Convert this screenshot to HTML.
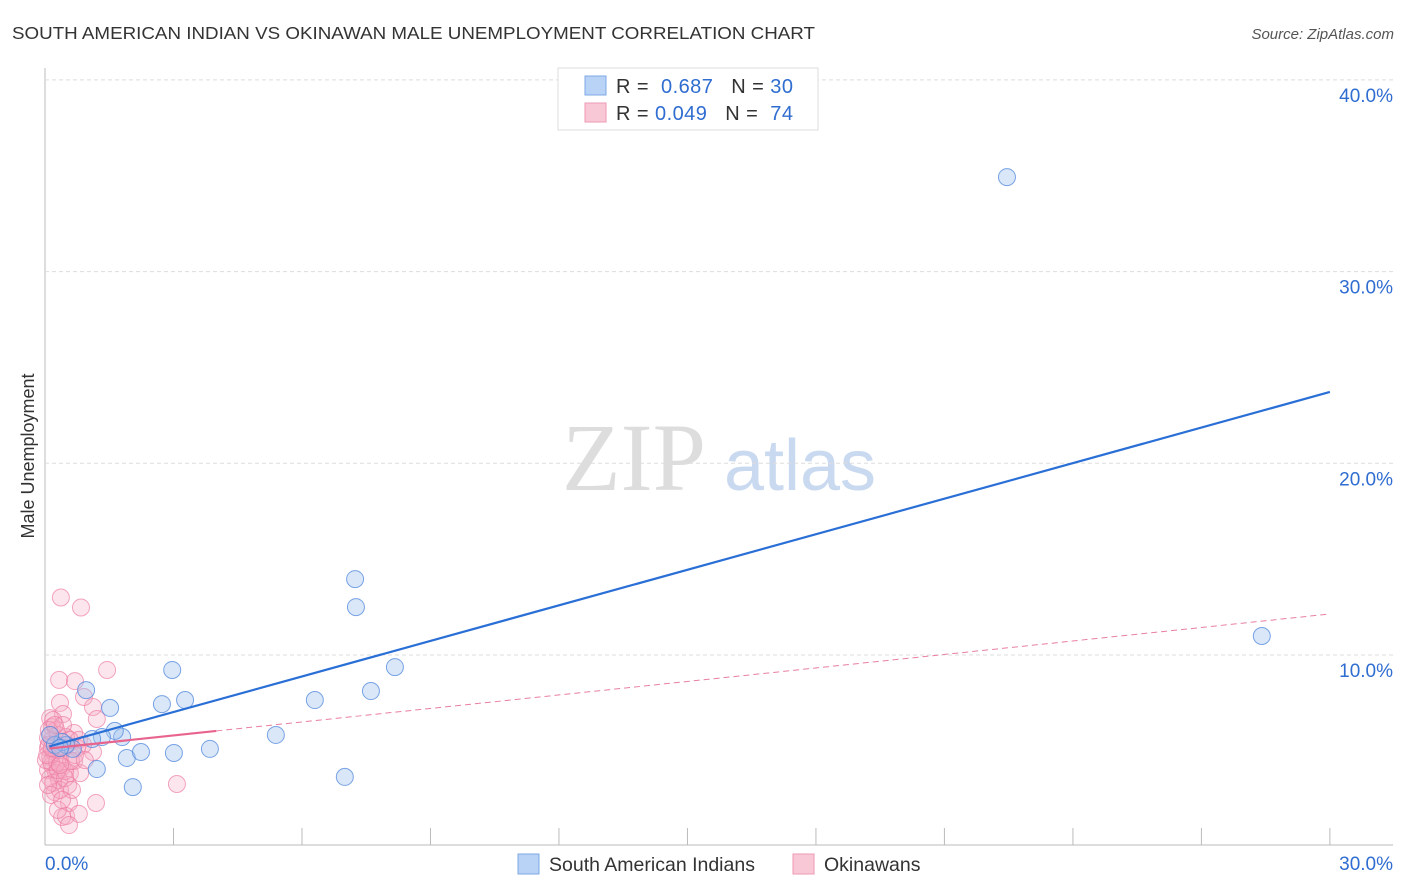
<!DOCTYPE html>
<html><head><meta charset="utf-8"><style>
body{margin:0;background:#fff;font-family:"Liberation Sans",sans-serif;}
svg{display:block}
</style></head><body>
<svg id="c" width="1406" height="892" xmlns="http://www.w3.org/2000/svg">
<text x="12" y="39" font-size="17.5" fill="#333" textLength="803" lengthAdjust="spacingAndGlyphs">SOUTH AMERICAN INDIAN VS OKINAWAN MALE UNEMPLOYMENT CORRELATION CHART</text>
<text x="1394" y="39" font-size="15" fill="#555" font-style="italic" text-anchor="end">Source: ZipAtlas.com</text>
<text x="634" y="490" font-size="96" fill="#ddd" font-family="Liberation Serif,serif" text-anchor="middle">ZIP</text>
<text x="800" y="490" font-size="72" fill="#c9d9f0" text-anchor="middle">atlas</text>
<text transform="translate(34,456) rotate(-90)" font-size="18" fill="#333" text-anchor="middle">Male Unemployment</text>
<g id="grid"></g><g id="marks"></g><g id="lines"></g>
<g>
<rect x="558" y="68" width="260" height="62" fill="#fff" stroke="#ddd"/>
<rect x="585" y="76" width="21" height="19" fill="#b8d3f5" stroke="#7ea9e6"/>
<rect x="585" y="103" width="21" height="19" fill="#f9c8d7" stroke="#ee9ab5"/>
<text x="616" y="93" font-size="20" fill="#333" textLength="177" lengthAdjust="spacing">R = <tspan fill="#2f6dd0">&#160;0.687</tspan><tspan dx="18">N = </tspan><tspan fill="#2f6dd0">30</tspan></text>
<text x="616" y="120" font-size="20" fill="#333" textLength="177" lengthAdjust="spacing">R = <tspan fill="#2f6dd0">0.049</tspan><tspan dx="18">N = </tspan><tspan fill="#2f6dd0">&#160;74</tspan></text>
</g>
<g>
<rect x="518" y="854" width="21" height="20" fill="#b8d3f5" stroke="#7ea9e6"/>
<text x="549" y="871" font-size="19.5" fill="#333">South American Indians</text>
<rect x="793" y="854" width="21" height="20" fill="#f9c8d7" stroke="#ee9ab5"/>
<text x="824" y="871" font-size="19.5" fill="#333">Okinawans</text>
</g>
<text x="45" y="870" font-size="19" fill="#2f6dd0">0.0%</text>
<text x="1393" y="870" font-size="19" fill="#2f6dd0" text-anchor="end">30.0%</text>
</svg>
<script>
const yTicks=[10,20,30,40];
const yTickLabels=["10.0%","20.0%","30.0%","40.0%"];
const xTicks=[0,3,6,9,12,15,18,21,24,27,30];
const blueX=[22.46,28.41,7.24,7.26,8.17,7.61,6.30,5.39,7.00,3.85,3.27,2.97,2.73,3.01,2.05,1.91,2.24,1.80,1.63,1.33,1.52,1.21,0.96,1.10,0.65,0.49,0.40,0.23,0.12,0.35];
const blueY=[34.93,10.99,13.96,12.50,9.37,8.12,7.65,5.83,3.64,5.10,7.65,9.22,7.44,4.89,3.11,4.63,4.94,5.72,6.04,5.72,7.24,4.05,8.17,5.62,5.10,5.31,5.46,5.31,5.83,5.15];
const pinkX=[0.37,0.84,1.45,0.33,0.70,0.91,0.35,1.12,0.42,1.21,0.12,0.16,0.26,0.68,0.49,0.79,0.23,0.07,0.44,0.75,1.12,0.12,0.35,0.68,0.16,0.40,0.07,0.26,0.58,0.82,0.12,0.33,0.54,0.23,0.56,1.19,3.08,0.40,0.49,0.79,0.56,0.16,0.30,0.07,0.21,0.14,0.28,0.19,0.47,0.61,0.37,0.02,0.09,0.30,0.35,0.51,0.19,0.89,0.42,0.70,0.09,0.26,0.47,0.14,0.30,0.63,0.40,0.05,0.23,0.58,0.93,0.16,0.35,0.07];
const pinkY=[13.00,12.48,9.22,8.70,8.64,7.81,7.50,7.29,6.92,6.66,6.71,6.24,6.09,5.93,5.72,5.57,5.31,5.15,5.15,5.15,4.94,4.68,4.63,4.47,4.26,4.16,4.00,3.84,3.84,3.84,3.58,3.48,3.22,2.85,2.28,2.28,3.27,1.55,1.60,1.71,1.13,5.57,5.83,5.67,4.94,4.42,4.42,3.33,3.95,4.47,5.20,4.52,5.31,4.00,2.96,5.31,6.61,5.31,6.35,4.78,6.09,5.05,3.58,2.70,1.92,2.96,2.44,4.78,6.35,5.57,4.52,5.15,4.26,3.22];
const blueFit=[5.17,23.72];
const pinkFit=[5.1,12.14];
const pinkSolidEnd=4.0;
const NS="http://www.w3.org/2000/svg";
const sx=v=>45+v*42.83, sy=v=>846.7-v*19.17;
function mk(t,a,p){const e=document.createElementNS(NS,t);for(const k in a)e.setAttribute(k,a[k]);p.appendChild(e);return e;}
const grid=document.getElementById('grid'),marks=document.getElementById('marks'),lines=document.getElementById('lines');
let ax=mk('line',{x1:45,y1:68,x2:45,y2:845,stroke:'#bbb'},grid);


let bx=mk('line',{x1:45,y1:845,x2:1393,y2:845,stroke:'#bbb'},grid);


yTicks.forEach((t,i)=>{
 let g=mk('line',{x1:45,x2:1393,y1:sy(t),y2:sy(t),stroke:'#ddd','stroke-dasharray':'4,3'},grid);
 
 
 let l=mk('text',{x:1393,y:sy(t)+22,'font-size':19,fill:'#2f6dd0','text-anchor':'end'},grid);
 l.textContent=yTickLabels[i];
 
 
});
xTicks.forEach(t=>{
 let k=mk('line',{x1:sx(t),x2:sx(t),y1:828,y2:845,stroke:'#bbb'},grid);
 
 
});
pinkX.forEach((v,i)=>{
 let c=mk('circle',{cx:sx(v),cy:sy(pinkY[i]),r:8.5,fill:'rgba(246,170,196,0.3)',stroke:'rgba(236,120,158,0.65)','stroke-width':1},marks);
 
 
});
blueX.forEach((v,i)=>{
 let c=mk('circle',{cx:sx(v),cy:sy(blueY[i]),r:8.5,fill:'rgba(160,195,240,0.4)',stroke:'rgba(80,135,220,0.75)','stroke-width':1},marks);
 
 
});
const pf=x=>pinkFit[0]+(pinkFit[1]-pinkFit[0])*x/30;
let pd=mk('line',{x1:sx(pinkSolidEnd),y1:sy(pf(pinkSolidEnd)),x2:sx(30),y2:sy(pinkFit[1]),stroke:'#e87fa0','stroke-width':1,'stroke-dasharray':'6,4'},lines);


let ps=mk('line',{x1:sx(0.1),y1:sy(pf(0.1)),x2:sx(pinkSolidEnd),y2:sy(pf(pinkSolidEnd)),stroke:'#e8648e','stroke-width':2.2},lines);


let bl=mk('line',{x1:sx(0.1),y1:sy(blueFit[0]+(blueFit[1]-blueFit[0])*0.1/30),x2:sx(30),y2:sy(blueFit[1]),stroke:'#2a6fd6','stroke-width':2.2},lines);


</script>
</body></html>
